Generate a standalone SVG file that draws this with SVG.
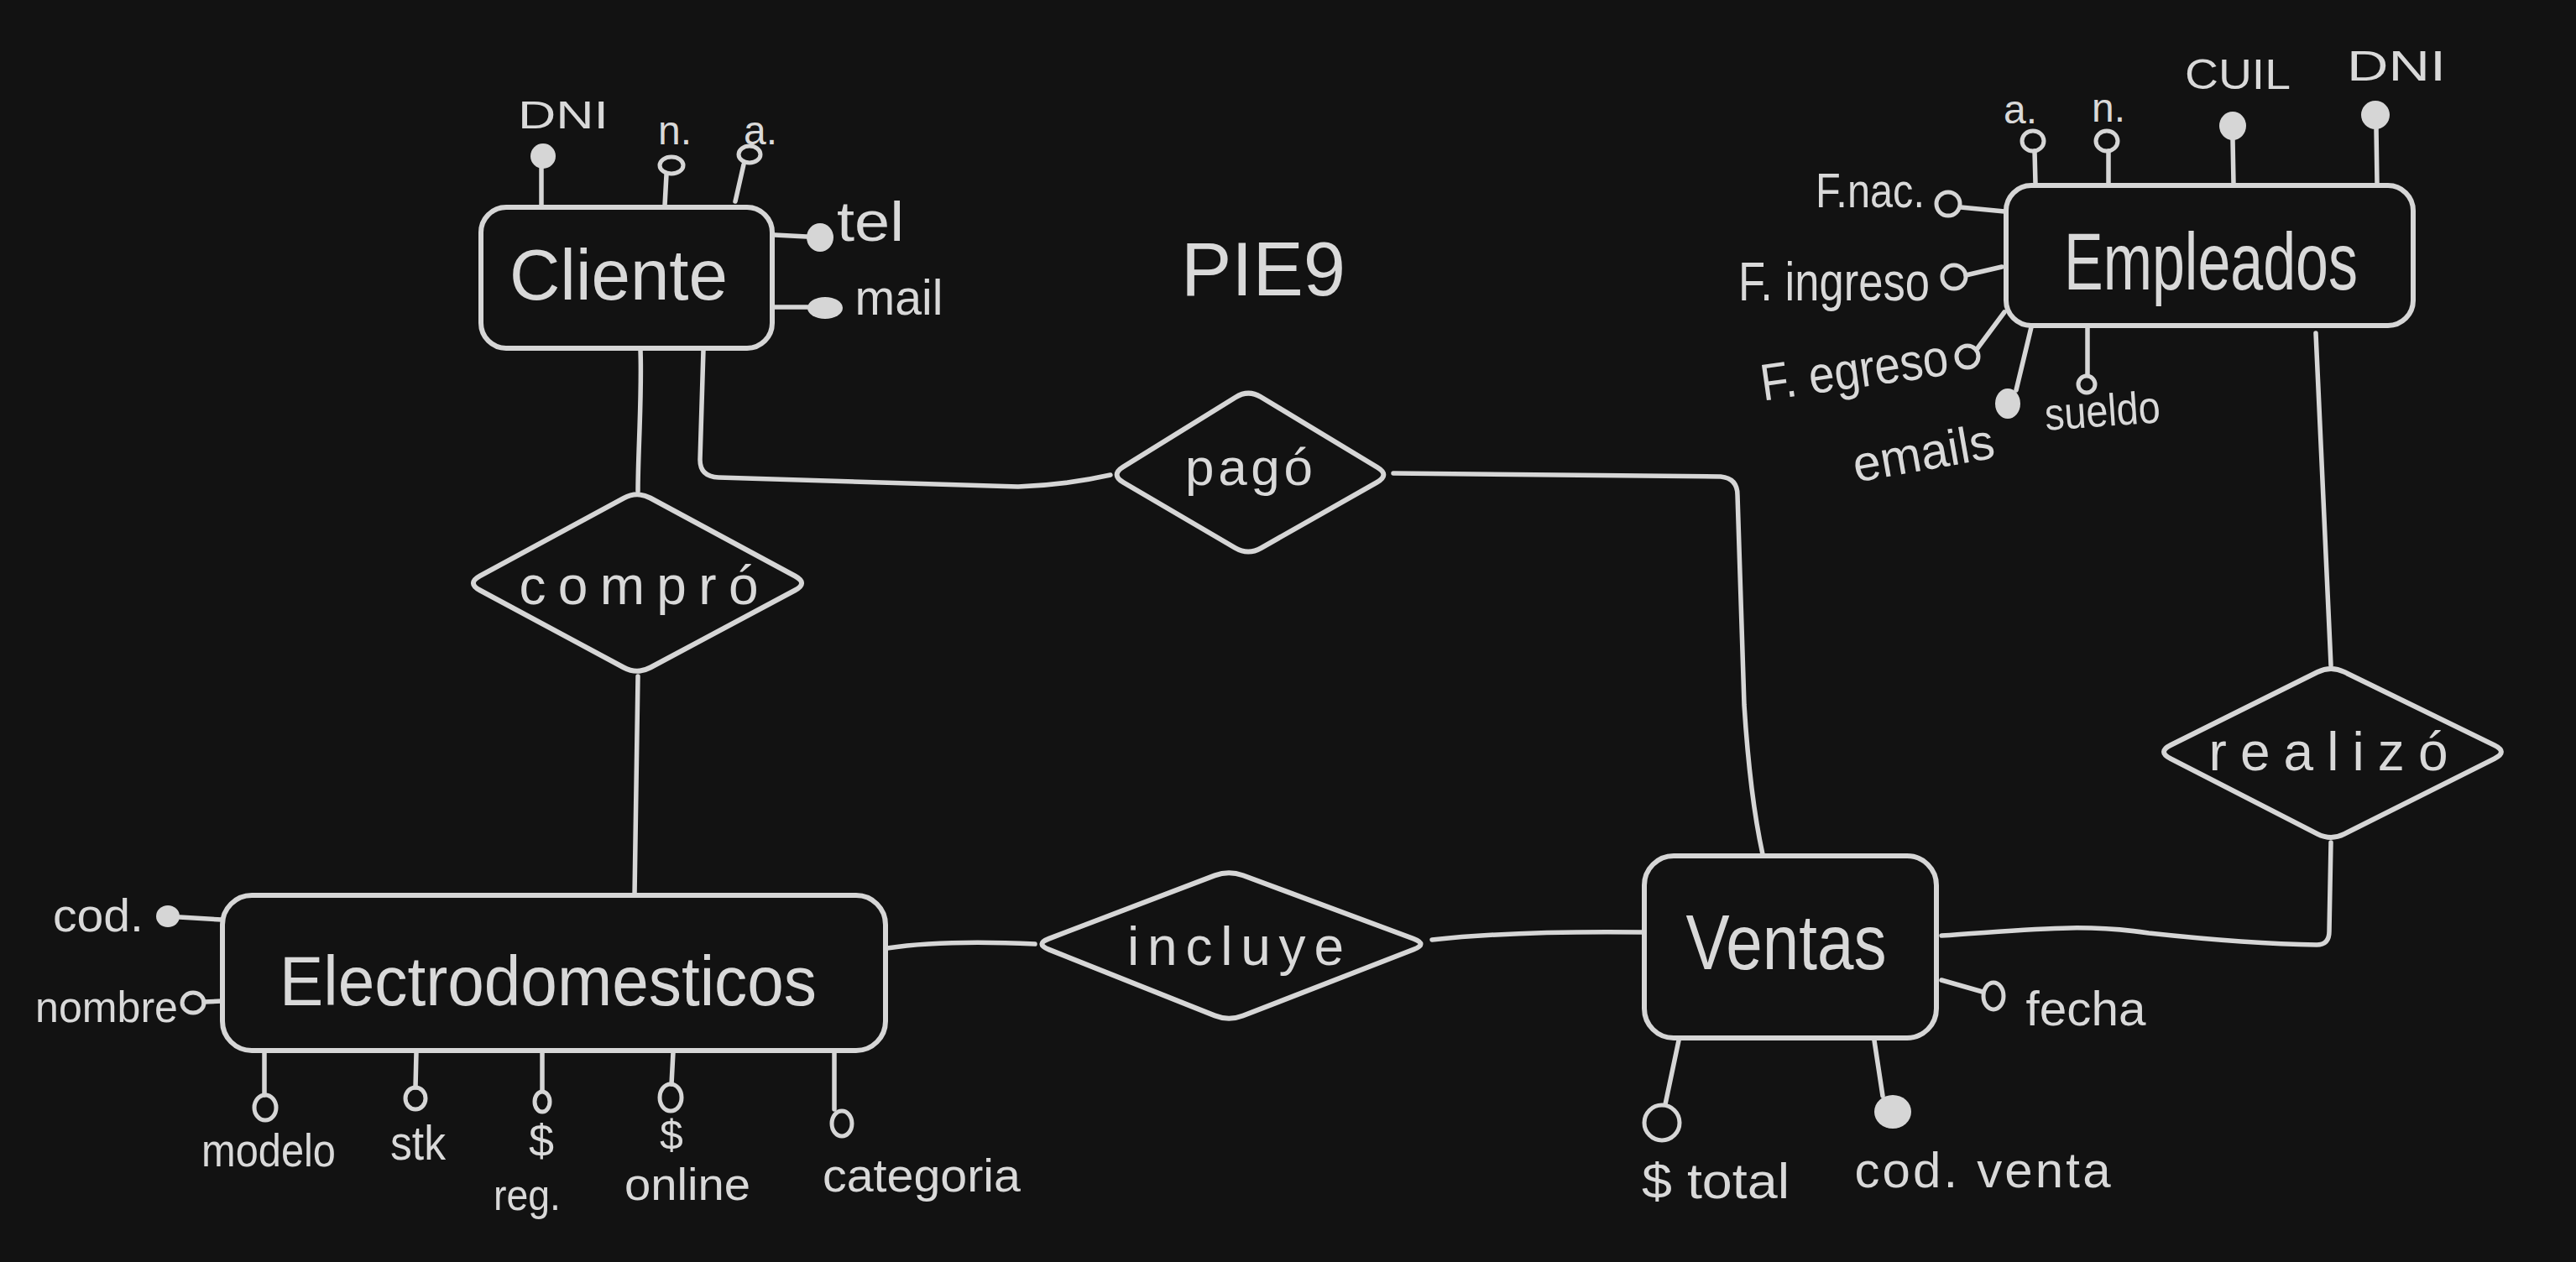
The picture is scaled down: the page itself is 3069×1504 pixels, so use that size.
<svg xmlns="http://www.w3.org/2000/svg" width="3069" height="1504" viewBox="0 0 3069 1504">
<style>
.bg{fill:#121212}
.ln{fill:none;stroke:#d6d6d6;stroke-width:5.5;stroke-linecap:round;stroke-linejoin:round}
.box{fill:#121212;stroke:#d6d6d6;stroke-width:6}
.dia{fill:#121212;stroke:#d6d6d6;stroke-width:6;stroke-linejoin:round}
.t{fill:#d9d9d9;font-family:"Liberation Sans",Arial,sans-serif;text-anchor:middle}
.fl{fill:#d6d6d6}
.ho{fill:none;stroke:#d6d6d6;stroke-width:5}
</style>
<rect class="bg" x="0" y="0" width="3069" height="1504"/>

<g id="connectors">
  <path class="ln" d="M763,417 C765,470 760,540 760,585"/>
  <path class="ln" d="M838,417 L834,548 Q834,568 856,569 L1213,580 Q1270,578 1323,566"/>
  <path class="ln" d="M1660,564 L2050,568 Q2070,570 2070,590 L2078,840 Q2085,950 2100,1018"/>
  <path class="ln" d="M760,806 L756,1067"/>
  <path class="ln" d="M1057,1130 C1110,1122 1170,1122 1233,1125"/>
  <path class="ln" d="M1706,1120 C1780,1112 1880,1110 1959,1111"/>
  <path class="ln" d="M2313,1115 C2420,1108 2480,1100 2560,1112 Q2680,1125 2760,1126 Q2775,1126 2775,1110 L2777,1004"/>
  <path class="ln" d="M2759,397 C2765,550 2772,680 2777,793"/>
  <path class="ln" d="M645,200 L645,245"/>
  <path class="ln" d="M794,208 L792,245"/>
  <path class="ln" d="M886,196 L876,240"/>
  <path class="ln" d="M923,280 L961,282"/>
  <path class="ln" d="M923,366 L962,366"/>
  <path class="ln" d="M2424,180 L2425,219"/>
  <path class="ln" d="M2512,180 L2512,219"/>
  <path class="ln" d="M2660,166 L2661,219"/>
  <path class="ln" d="M2831,153 L2832,219"/>
  <path class="ln" d="M2336,247 L2388,252"/>
  <path class="ln" d="M2342,328 L2385,318"/>
  <path class="ln" d="M2356,415 L2388,372"/>
  <path class="ln" d="M2402,465 L2420,390"/>
  <path class="ln" d="M2487,390 L2487,447"/>
  <path class="ln" d="M214,1093 L264,1096"/>
  <path class="ln" d="M243,1194 L264,1193"/>
  <path class="ln" d="M315,1254 L315,1305"/>
  <path class="ln" d="M496,1254 L495,1296"/>
  <path class="ln" d="M646,1254 L646,1300"/>
  <path class="ln" d="M802,1254 L800,1292"/>
  <path class="ln" d="M994,1254 L994,1322"/>
  <path class="ln" d="M2313,1168 L2362,1182"/>
  <path class="ln" d="M2000,1240 L1984,1316"/>
  <path class="ln" d="M2233,1240 L2243,1306"/>
</g>

<g id="title">
  <text class="t" x="1505" y="352" font-size="90" textLength="196" lengthAdjust="spacingAndGlyphs">PIE9</text>
</g>

<g id="cliente">
  <rect class="box" x="573" y="247" width="347" height="168" rx="30"/>
  <text class="t" x="737" y="357" font-size="86" textLength="260" lengthAdjust="spacingAndGlyphs">Cliente</text>
</g>
<g id="cliente-dni"><ellipse class="fl" cx="647" cy="186" rx="15" ry="15"/><text class="t" x="671" y="153" font-size="46" textLength="108" lengthAdjust="spacingAndGlyphs">DNI</text></g>
<g id="cliente-n"><ellipse class="ho" cx="800" cy="197" rx="14" ry="10"/><text class="t" x="804" y="172" font-size="48">n.</text></g>
<g id="cliente-a"><ellipse class="ho" cx="893" cy="184" rx="13" ry="10"/><text class="t" x="906" y="172" font-size="48">a.</text></g>
<g id="cliente-tel"><ellipse class="fl" cx="977" cy="283" rx="16" ry="17"/><text class="t" x="1037" y="287" font-size="66" textLength="80" lengthAdjust="spacingAndGlyphs">tel</text></g>
<g id="cliente-mail"><ellipse class="fl" cx="983" cy="367" rx="21" ry="13"/><text class="t" x="1071" y="375" font-size="60" textLength="105" lengthAdjust="spacingAndGlyphs">mail</text></g>

<g id="compro">
  <path class="dia" d="M571.8,686.4 L743.2,593.6 Q759,585 774.8,593.5 L947.2,686.5 Q963,695 947.1,703.5 L774.9,795.5 Q759,804 743.1,795.5 L571.9,703.5 Q556,695 571.8,686.4 Z"/>
  <text class="t" x="761" y="720" font-size="64" textLength="285" lengthAdjust="spacing">compró</text>
</g>

<g id="pago">
  <path class="dia" d="M1338,556.5 L1472,473.5 Q1487,464 1502,473 L1641,557 Q1656,566 1640.4,574.9 L1502.5,653.1 Q1487,662 1471.6,653 L1338.5,575 Q1323,566 1338,556.5 Z"/>
  <text class="t" x="1488" y="578" font-size="62" textLength="152" lengthAdjust="spacing">pagó</text>
</g>

<g id="empleados">
  <rect class="box" x="2390" y="221" width="485" height="167" rx="30"/>
  <text class="t" x="2634" y="345" font-size="96" textLength="350" lengthAdjust="spacingAndGlyphs">Empleados</text>
</g>
<g id="emp-a"><ellipse class="ho" cx="2422" cy="168" rx="13" ry="12"/><text class="t" x="2407" y="147" font-size="48">a.</text></g>
<g id="emp-n"><ellipse class="ho" cx="2510" cy="168" rx="13" ry="12"/><text class="t" x="2512" y="145" font-size="48">n.</text></g>
<g id="emp-cuil"><ellipse class="fl" cx="2660" cy="150" rx="16" ry="17"/><text class="t" x="2666" y="106" font-size="50" textLength="126" lengthAdjust="spacingAndGlyphs">CUIL</text></g>
<g id="emp-dni"><ellipse class="fl" cx="2830" cy="137" rx="17" ry="17"/><text class="t" x="2855" y="96" font-size="50" textLength="118" lengthAdjust="spacingAndGlyphs">DNI</text></g>
<g id="emp-fnac"><circle class="ho" cx="2321" cy="243" r="14"/><text class="t" x="2228" y="247" font-size="58" textLength="130" lengthAdjust="spacingAndGlyphs">F.nac.</text></g>
<g id="emp-fingreso"><circle class="ho" cx="2328" cy="330" r="14"/><text class="t" x="2185" y="358" font-size="64" textLength="228" lengthAdjust="spacingAndGlyphs">F. ingreso</text></g>
<g id="emp-fegreso"><circle class="ho" cx="2344" cy="425" r="13"/><text class="t" x="2212" y="462" font-size="62" textLength="225" lengthAdjust="spacingAndGlyphs" transform="rotate(-8 2212 462)">F. egreso</text></g>
<g id="emp-emails"><ellipse class="fl" cx="2392" cy="481" rx="15" ry="18"/><text class="t" x="2295" y="560" font-size="60" textLength="170" lengthAdjust="spacingAndGlyphs" transform="rotate(-10 2295 560)">emails</text></g>
<g id="emp-sueldo"><circle class="ho" cx="2486" cy="458" r="10"/><text class="t" x="2506" y="508" font-size="54" textLength="138" lengthAdjust="spacingAndGlyphs" transform="rotate(-4 2506 508)">sueldo</text></g>

<g id="realizo">
  <path class="dia" d="M2586.1,888 L2760.9,801 Q2777,793 2793.2,800.9 L2971.8,888.1 Q2988,896 2971.9,904.1 L2793,993.9 Q2777,1002 2761,993.8 L2586,904.2 Q2570,896 2586.1,888 Z"/>
  <text class="t" x="2774" y="918" font-size="64" textLength="285" lengthAdjust="spacing">realizó</text>
</g>

<g id="electrodomesticos">
  <rect class="box" x="265" y="1067" width="790" height="185" rx="35"/>
  <text class="t" x="653" y="1198" font-size="84" textLength="640" lengthAdjust="spacingAndGlyphs">Electrodomesticos</text>
</g>
<g id="el-cod"><ellipse class="fl" cx="200" cy="1092" rx="14" ry="13"/><text class="t" x="117" y="1110" font-size="56" textLength="108" lengthAdjust="spacingAndGlyphs">cod.</text></g>
<g id="el-nombre"><ellipse class="ho" cx="230" cy="1195" rx="13" ry="12"/><text class="t" x="127" y="1218" font-size="52" textLength="170" lengthAdjust="spacingAndGlyphs">nombre</text></g>
<g id="el-modelo"><ellipse class="ho" cx="316" cy="1320" rx="13" ry="15"/><text class="t" x="320" y="1390" font-size="55" textLength="160" lengthAdjust="spacingAndGlyphs">modelo</text></g>
<g id="el-stk"><ellipse class="ho" cx="495" cy="1309" rx="12" ry="13"/><text class="t" x="498" y="1382" font-size="58" textLength="66" lengthAdjust="spacingAndGlyphs">stk</text></g>
<g id="el-reg"><ellipse class="ho" cx="646" cy="1313" rx="9" ry="12"/><text class="t" x="645" y="1378" font-size="54">$</text><text class="t" x="628" y="1442" font-size="52" textLength="80" lengthAdjust="spacingAndGlyphs">reg.</text></g>
<g id="el-online"><ellipse class="ho" cx="799" cy="1308" rx="13" ry="16"/><text class="t" x="800" y="1370" font-size="50">$</text><text class="t" x="819" y="1430" font-size="54" textLength="150" lengthAdjust="spacingAndGlyphs">online</text></g>
<g id="el-categoria"><ellipse class="ho" cx="1003" cy="1339" rx="12" ry="15"/><text class="t" x="1098" y="1420" font-size="56" textLength="236" lengthAdjust="spacingAndGlyphs">categoria</text></g>

<g id="incluye">
  <path class="dia" d="M1249.8,1118.6 L1447.2,1043.4 Q1464,1037 1480.9,1043.3 L1684.1,1118.7 Q1701,1125 1684.2,1131.5 L1480.8,1210.5 Q1464,1217 1447.3,1210.4 L1249.7,1131.6 Q1233,1125 1249.8,1118.6 Z"/>
  <text class="t" x="1472" y="1150" font-size="64" textLength="258" lengthAdjust="spacing">incluye</text>
</g>

<g id="ventas">
  <rect class="box" x="1959" y="1020" width="348" height="217" rx="35"/>
  <text class="t" x="2128" y="1155" font-size="92" textLength="239" lengthAdjust="spacingAndGlyphs">Ventas</text>
</g>
<g id="v-fecha"><ellipse class="ho" cx="2375" cy="1187" rx="12" ry="16"/><text class="t" x="2485" y="1222" font-size="58" textLength="143" lengthAdjust="spacingAndGlyphs">fecha</text></g>
<g id="v-total"><ellipse class="ho" cx="1980" cy="1338" rx="21" ry="21"/><text class="t" x="2044" y="1428" font-size="60" textLength="176" lengthAdjust="spacingAndGlyphs">$ total</text></g>
<g id="v-cod"><ellipse class="fl" cx="2255" cy="1325" rx="22" ry="20"/><text class="t" x="2362" y="1415" font-size="60" textLength="305" lengthAdjust="spacing">cod. venta</text></g>
</svg>
